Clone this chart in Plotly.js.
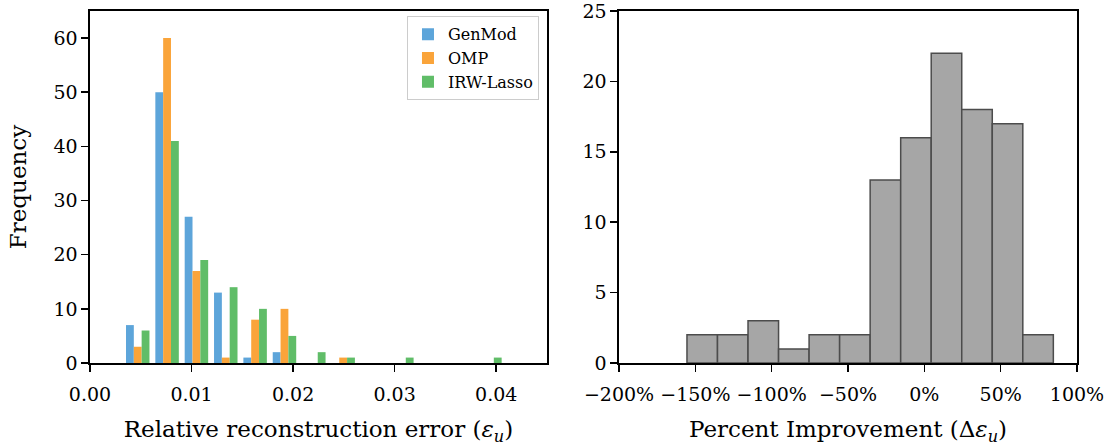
<!DOCTYPE html>
<html>
<head>
<meta charset="utf-8">
<script src="https://cdn.plot.ly/plotly-3.0.1.min.js"></script>
<style>
  html, body { margin: 0; padding: 0; background: #fff; }
  #chart { width: 1107px; height: 446px; }
</style>
</head>
<body>
<div id="chart"></div>
<script>
// ---- Left panel: relative reconstruction error histogram (bin centres and counts) ----
const errBinCenters = [0.0047, 0.00759, 0.01048, 0.01337, 0.01626, 0.01915, 0.02204, 0.02493, 0.02782, 0.03071, 0.0336, 0.03649, 0.03938];
const genModCounts  = [7, 50, 27, 13, 1, 2, 0, 0, 0, 0, 0, 0, 0];
const ompCounts     = [3, 60, 17, 1, 8, 10, 0, 1, 0, 0, 0, 0, 0];
const irwCounts     = [6, 41, 19, 14, 10, 5, 2, 1, 0, 1, 0, 0, 1];
const seriesNames   = ["GenMod", "OMP", "IRW-Lasso"];
const errTickVals   = [0, 0.01, 0.02, 0.03, 0.04];
const errTickText   = ["0.00", "0.01", "0.02", "0.03", "0.04"];
const freqTickVals  = [0, 10, 20, 30, 40, 50, 60];

// ---- Right panel: percent improvement histogram ----
const impBinCenters = [-145.5, -125.5, -105.5, -85.5, -65.5, -45.5, -25.5, -5.5, 14.5, 34.5, 54.5, 74.5];
const impCounts     = [2, 2, 3, 1, 2, 2, 13, 16, 22, 18, 17, 2];
const impTickVals   = [-200, -150, -100, -50, 0, 50, 100];
const impTickText   = ["\u2212200%", "\u2212150%", "\u2212100%", "\u221250%", "0%", "50%", "100%"];
const impYTickVals  = [0, 5, 10, 15, 20, 25];

const FONT = "DejaVu Serif";
const colors = ["#5DA5DA", "#FAA43A", "#60BD68"];
const countsList = [genModCounts, ompCounts, irwCounts];

const traces = countsList.map((c, i) => ({
  type: "bar",
  x: errBinCenters,
  y: c,
  name: seriesNames[i],
  marker: { color: colors[i], line: { width: 0 } },
  xaxis: "x", yaxis: "y",
  hoverinfo: "x+y+name"
}));

traces.push({
  type: "bar",
  x: impBinCenters,
  y: impCounts,
  width: 20.0,
  showlegend: false,
  marker: { color: "#A6A6A6", line: { color: "#4C4C4C", width: 1.5 } },
  xaxis: "x2", yaxis: "y2"
});

const axisCommon = {
  showline: true, linecolor: "#000", linewidth: 1.6, mirror: true,
  ticks: "outside", ticklen: 7, tickwidth: 1.6, tickcolor: "#000",
  showgrid: false, zeroline: false,
  tickfont: { family: FONT, size: 19, color: "#000" },
  ticklabeloverflow: "allow",
  fixedrange: true
};

const titleFont = { family: FONT, size: 23, color: "#000" };

const layout = {
  width: 1107, height: 446,
  margin: { l: 90, r: 30, t: 11, b: 83 },
  paper_bgcolor: "#fff", plot_bgcolor: "#fff",
  font: { family: FONT, color: "#000" },
  barmode: "group", bargap: 0.2, bargroupgap: 0,
  showlegend: true,
  legend: {
    x: 0.4549, y: 0.985, xanchor: "right", yanchor: "top",
    bgcolor: "rgba(255,255,255,0.8)", bordercolor: "#cccccc", borderwidth: 1,
    font: { family: FONT, size: 16, color: "#000" },
    tracegroupgap: 0
  },
  xaxis: Object.assign({}, axisCommon, {
    domain: [0, 0.4630], range: [0, 0.045], anchor: "y",
    tickvals: errTickVals, ticktext: errTickText, ticklabelstandoff: 7,
    title: { text: "Relative reconstruction error (<i>\u03b5</i><sub><i>u</i></sub>)", font: titleFont, standoff: 16 }
  }),
  yaxis: Object.assign({}, axisCommon, {
    domain: [0, 1], range: [0, 65], anchor: "x",
    tickvals: freqTickVals,
    title: { text: "Frequency", font: titleFont, standoff: 20 }
  }),
  xaxis2: Object.assign({}, axisCommon, {
    domain: [0.5360, 1], range: [-200, 100], anchor: "y2",
    tickvals: impTickVals, ticktext: impTickText, ticklabelstandoff: 7,
    title: { text: "Percent Improvement (\u0394<i>\u03b5</i><sub><i>u</i></sub>)", font: titleFont, standoff: 16 }
  }),
  yaxis2: Object.assign({}, axisCommon, {
    domain: [0, 1], range: [0, 25], anchor: "x2",
    tickvals: impYTickVals
  })
};

Plotly.newPlot("chart", traces, layout, { displayModeBar: false, staticPlot: true });
</script>
</body>
</html>
